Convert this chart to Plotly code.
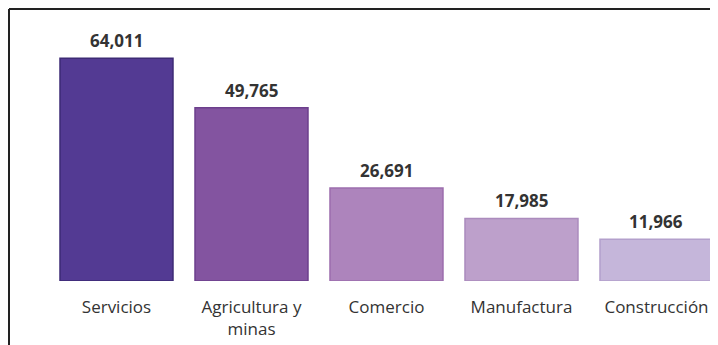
import plotly.graph_objects as go

categorias = ["Servicios", "Agricultura y<br>minas", "Comercio", "Manufactura", "Construcción"]
valores = [64011, 49765, 26691, 17985, 11966]
etiquetas = ["64,011", "49,765", "26,691", "17,985", "11,966"]

relleno = ["#533a93", "#8354a0", "#ad84bc", "#bda0cb", "#c5b6da"]
borde = ["#3d2a75", "#6c3f8c", "#9c6dad", "#ab8bbd", "#b3a0cc"]

# la página deja 8px de margen en el body, así que la figura empieza en (8, 8)
W, H = 718, 345
ml, mr, mt, mb = 41, 0, 12, 72

fig = go.Figure()
fig.add_trace(go.Bar(
    x=categorias, y=valores,
    marker=dict(color=relleno, line=dict(color=borde, width=1.5)),
    hoverinfo="skip",
))

for c, v, t in zip(categorias, valores, etiquetas):
    fig.add_annotation(x=c, y=v, text=t, showarrow=False, yanchor="bottom", yshift=4,
                       font=dict(family="Open Sans", size=17, color="#333333", weight="bold"))

# marco: solo se ven el borde izquierdo y el superior
pw = W - ml - mr
ph = H - mt - mb
x_izq = (1 - ml) / pw
y_top = (H - mb - 1) / ph
y_bot = -(mb + 10) / ph
fig.add_shape(type="line", xref="paper", yref="paper", x0=x_izq, x1=x_izq, y0=y_bot, y1=y_top,
              line=dict(color="#222222", width=2))
fig.add_shape(type="line", xref="paper", yref="paper", x0=x_izq, x1=1.05, y0=y_top, y1=y_top,
              line=dict(color="#222222", width=2))

fig.update_layout(
    width=W, height=H,
    margin=dict(l=ml, r=mr, t=mt, b=mb),
    paper_bgcolor="white", plot_bgcolor="white",
    bargap=0.163,
    showlegend=False,
    font=dict(family="Open Sans", color="#333333"),
)
fig.update_xaxes(range=[-0.5, 4.515], showgrid=False, showline=False, zeroline=False,
                 tickfont=dict(size=17, color="#333333"), ticks="", ticklabelstandoff=14)
fig.update_yaxes(range=[0, 75000], visible=False)

fig.write_html("out.html")
